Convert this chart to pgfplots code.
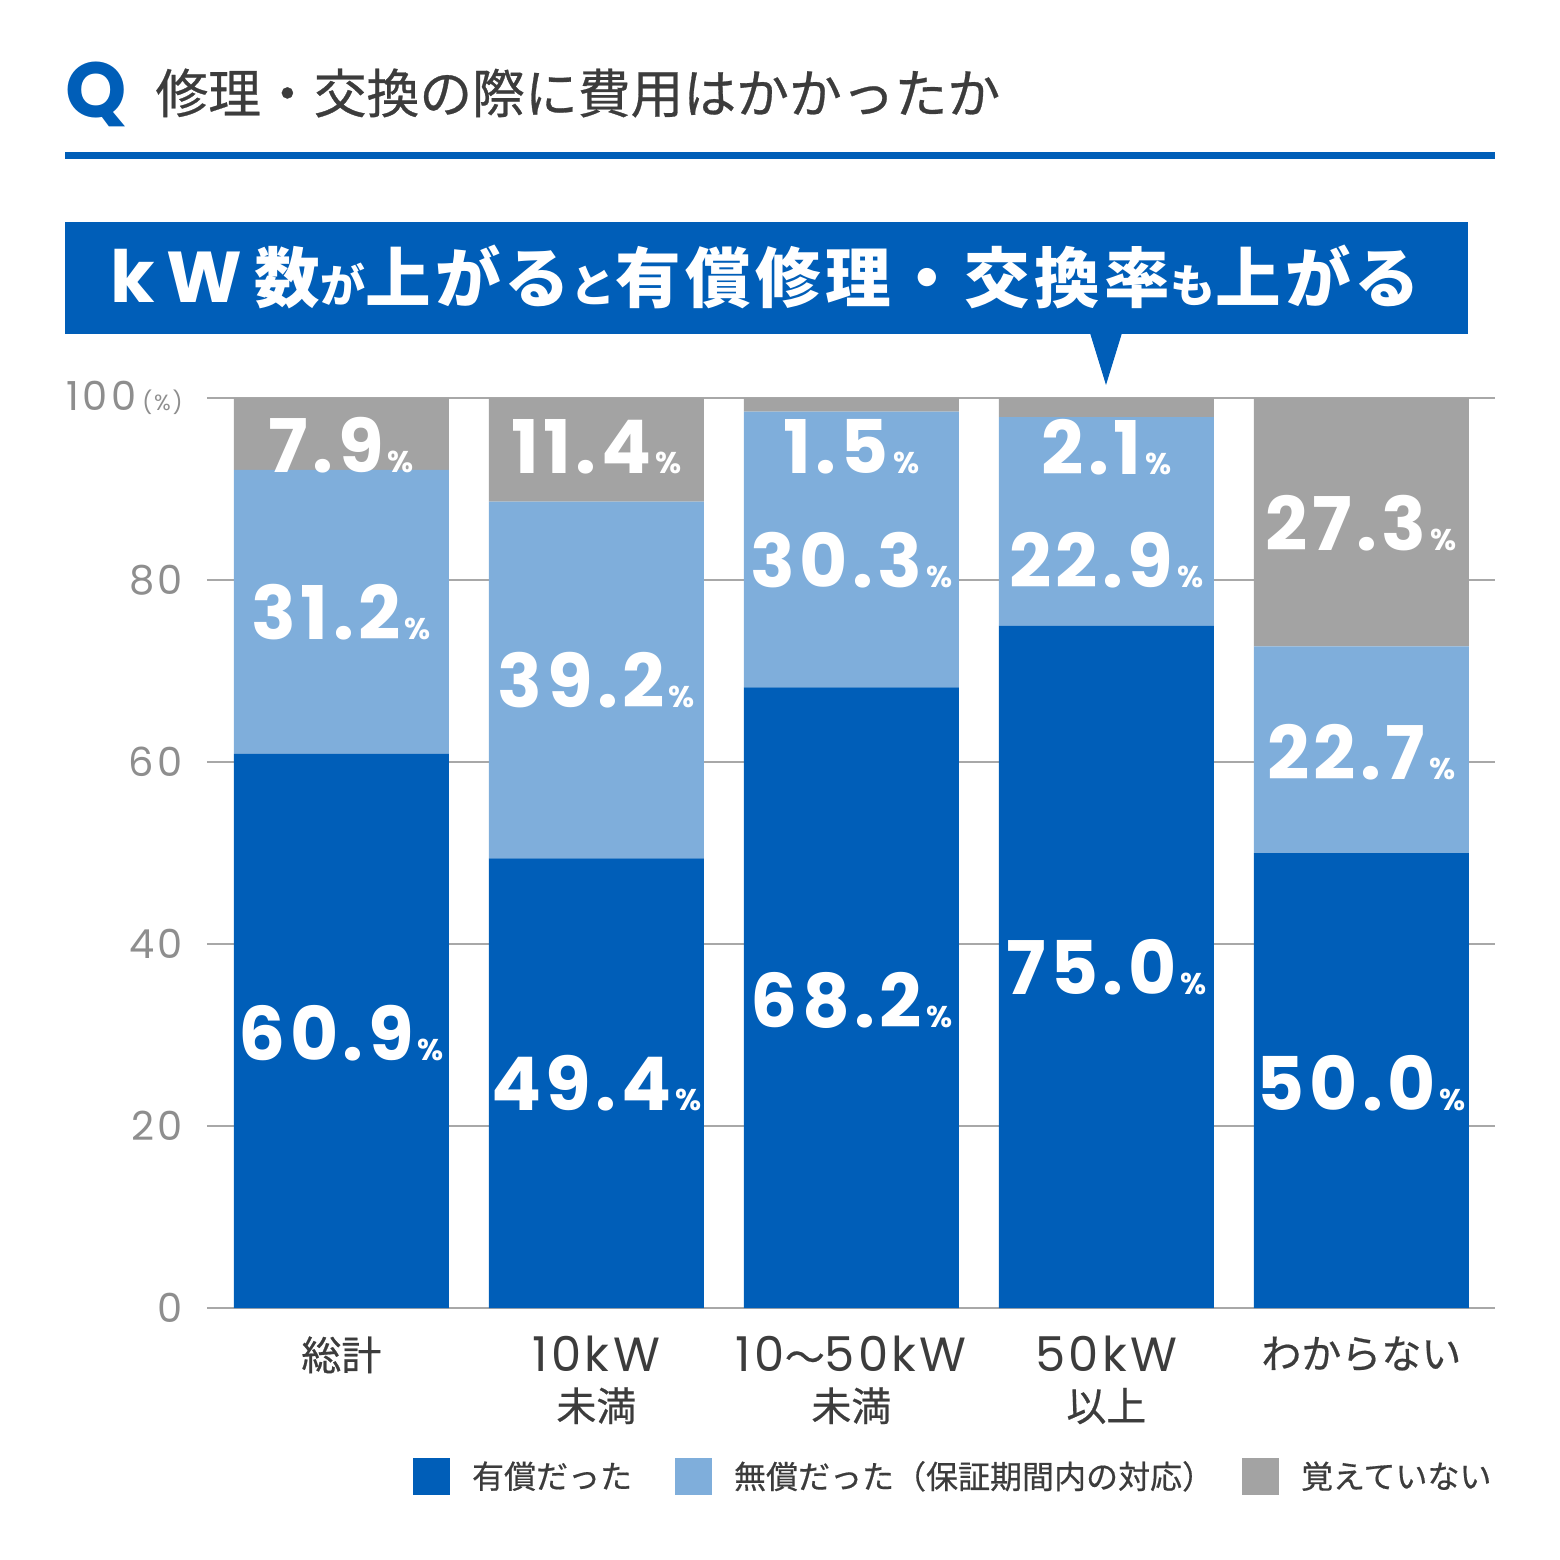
\documentclass[border=0pt]{standalone}
\usepackage{pgfplots}
\pgfplotsset{compat=1.18}
\usepackage{pgfplotstable}
\usepackage{fontspec}
\setmainfont{Poppins}
\newfontfamily\cjk{Noto Sans CJK JP}
\newfontfamily\cjkm{Noto Sans CJK JP}[FakeBold=0.5]
\newfontfamily\cjkb{Noto Sans CJK JP}[LetterSpace=6.5]
\newfontfamily\pop{Poppins}
\newfontfamily\popt{Poppins}[LetterSpace=8]
\newfontfamily\popx{Poppins}[LetterSpace=7]
\newfontfamily\popl{Poppins}[LetterSpace=6]
\definecolor{dblue}{HTML}{005EB8}
\definecolor{lblue}{HTML}{7FAEDB}
\definecolor{gbar}{HTML}{A3A3A3}
\definecolor{gridc}{HTML}{A8A8A8}
\definecolor{txt}{HTML}{3C3C3C}
\definecolor{ticktxt}{HTML}{8E8E8E}

\pgfplotstableread{
x paid free notrem
0 60.9 31.2 7.9
1 49.4 39.2 11.4
2 68.2 30.3 1.5
3 75.0 22.9 2.1
4 50.0 22.7 27.3
}\data

\pgfplotstableread{
x y label
0 30.2 60.9
0 76.5 31.2
0 94.8 7.9
1 24.7 49.4
1 69.0 39.2
1 94.6 11.4
2 33.8 68.2
2 82.2 30.3
2 94.6 1.5
3 37.4 75.0
3 82.2 22.9
3 94.6 2.1
4 24.7 50.0
4 61.1 22.7
4 86.3 27.3
}\labels

\newcommand\jx[1]{{\cjkm\fontsize{20}{24.5}\selectfont #1}}
\pgfplotsset{base/.style={scale only axis, width=644pt, height=455pt,
  xmin=-0.527, xmax=4.524, ymin=0, ymax=100, clip=false}}

\begin{document}
\begin{tikzpicture}
\path[use as bounding box] (-103.5pt,-126pt) rectangle (676.5pt,654pt);
\begin{axis}[base, ybar stacked, bar width=107.5pt,
  axis line style={draw=none}, major tick style={draw=none},
  ymajorgrids, grid style={gridc, line width=1pt},
  ytick={0,20,40,60,80,100},
  yticklabels={0,20,40,60,80,{100\hspace{3pt}{\fontsize{11}{11}\selectfont(\%)}}},
  yticklabel style={font=\popt\fontsize{20}{20}\selectfont, text=ticktxt, anchor=east, inner sep=0pt, xshift=-12pt},
  xtick={0,1,2,3,4},
  xticklabels={{\jx{総計}},{10kW\\\jx{未満}},{10\jx{〜}50kW\\\jx{未満}},{50kW\\\jx{以上}},{\jx{わからない}}},
  xticklabel style={font=\popx\fontsize{24}{24.5}\selectfont, text=txt, align=center, anchor=north, inner sep=0pt, yshift=-14pt},
  /pgf/number format/assume math mode=true,
  legend columns=3,
  legend style={at={(0.16,-0.185)}, anchor=west, draw=none, fill=none, inner sep=0pt, outer sep=0pt,
    font=\cjkm\fontsize{16}{16}\selectfont, text=txt, nodes={inner sep=0pt},
    /tikz/every odd column/.style={column sep=11pt},
    /tikz/column 2/.style={column sep=21.5pt},
    /tikz/column 4/.style={column sep=14pt}},
  legend image code/.code={\fill[#1] (0pt,-9.25pt) rectangle (18.5pt,9.25pt);},
]
\addplot[fill=dblue, draw=none] table[x=x, y=paid]{\data};
\addlegendentry{有償だった}
\addplot[fill=lblue, draw=none] table[x=x, y=free]{\data};
\addlegendentry{無償だった（保証期間内の対応）}
\addplot[fill=gbar, draw=none] table[x=x, y=notrem]{\data};
\addlegendentry{覚えていない}
\end{axis}
\begin{axis}[base, hide axis]
\addplot[draw=none, mark=none, nodes near coords={\pgfplotspointmeta\hspace{2pt}{\fontsize{15}{15}\selectfont\%}},
  point meta=explicit symbolic, nodes near coords align={center},
  every node near coord/.style={anchor=center, inner sep=0pt, text=white, font=\popl\bfseries\fontsize{37}{37}\selectfont}]
  table[x=x, y=y, meta=label]{\labels};
\end{axis}
\begin{scope}[shift={(-103.5pt,654pt)}, x=0.5pt, y=-0.5pt]
  \node[anchor=base west, inner sep=0pt, text=dblue, font=\pop\bfseries\fontsize{39}{39}\selectfont] at (65,118) {Q};
  \node[anchor=base west, inner sep=0pt, text=txt, font=\cjkm\fontsize{26.4}{26.4}\selectfont] at (155,113) {修理・交換の際に費用はかかったか};
  \fill[dblue] (65,152) rectangle (1495,159);
  \fill[dblue] (65,222) rectangle (1468,334);
  \fill[dblue] (1090,333) -- (1122,333) -- (1106,385) -- cycle;
  \node[anchor=base west, inner sep=0pt, text=white] at (110,303) {%
    {\pop\bfseries\fontsize{36}{36}\selectfont k\hspace{6pt}W}\hspace{6pt}%
    {\cjkb\bfseries\fontsize{32.8}{32.8}\selectfont 数}%
    {\cjkb\bfseries\fontsize{22.5}{22.5}\selectfont が}%
    {\cjkb\bfseries\fontsize{32.8}{32.8}\selectfont 上がる}%
    {\cjkb\bfseries\fontsize{22.5}{22.5}\selectfont と}%
    {\cjkb\bfseries\fontsize{32.8}{32.8}\selectfont 有償修理・交換率}%
    {\cjkb\bfseries\fontsize{22.5}{22.5}\selectfont も}%
    {\cjkb\bfseries\fontsize{32.8}{32.8}\selectfont 上がる}};
\end{scope}
\end{tikzpicture}
\end{document}
